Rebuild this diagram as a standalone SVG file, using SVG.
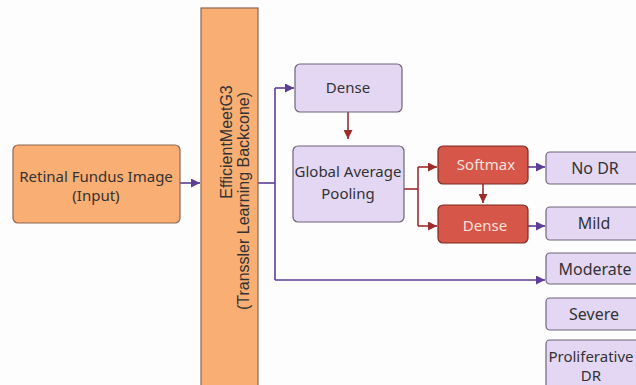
<svg xmlns="http://www.w3.org/2000/svg" width="636" height="385" viewBox="0 0 636 385">
  <defs>
    <marker id="arrowPurple" viewBox="0 0 10 10" refX="10" refY="5" markerWidth="9" markerHeight="9" markerUnits="userSpaceOnUse" orient="auto">
      <path d="M0,0 L10,5 L0,10 z" fill="#5a3e98"/>
    </marker>
    <marker id="arrowRed" viewBox="0 0 10 10" refX="10" refY="5" markerWidth="9" markerHeight="9" markerUnits="userSpaceOnUse" orient="auto">
      <path d="M0,0 L10,5 L0,10 z" fill="#9e2b2b"/>
    </marker>
  </defs>
  <style>
    .orange { fill: #f9ae73; stroke: #8c6650; stroke-width: 1.2; }
    .lav { fill: #e3d7f3; stroke: #6e6478; stroke-width: 1.2; }
    .red { fill: #d6564a; stroke: #7d2a23; stroke-width: 1.2; }
    .lbl { font-family: "Noto Sans", "Open Sans", sans-serif; font-size: 15px; fill: #333; text-anchor: middle; }
    .big { font-size: 16px; }
    .lblw { font-family: "Noto Sans", "Open Sans", sans-serif; font-size: 15px; fill: #f8e2dc; text-anchor: middle; }
    .bb { font-family: "Liberation Sans", Arial, sans-serif; font-size: 16px; fill: #333; text-anchor: middle; }
    .cp { fill: none; stroke: #5a3e98; stroke-width: 1.6; }
    .cr { fill: none; stroke: #9e2b2b; stroke-width: 1.6; }
  </style>
  <rect width="636" height="385" fill="#fdfdfd"/>

  <g id="connectors">
    <path class="cp" d="M180,183 H200" marker-end="url(#arrowPurple)"/>
    <path class="cp" d="M258,183 H275"/>
    <path class="cp" d="M275,88 V280"/>
    <path class="cp" d="M275,88 H294" marker-end="url(#arrowPurple)"/>
    <path class="cp" d="M275,280 H545" marker-end="url(#arrowPurple)"/>
    <path class="cr" d="M348,112 V139" marker-end="url(#arrowRed)"/>
    <path class="cr" d="M404,189 H418"/>
    <path class="cr" d="M418,167 V226"/>
    <path class="cr" d="M418,167 H437" marker-end="url(#arrowRed)"/>
    <path class="cr" d="M418,226 H437" marker-end="url(#arrowRed)"/>
    <path class="cr" d="M483,184 V203" marker-end="url(#arrowRed)"/>
    <path class="cp" d="M528,167 H545" marker-end="url(#arrowPurple)"/>
    <path class="cp" d="M528,226 H545" marker-end="url(#arrowPurple)"/>
  </g>

  <g id="input">
    <rect class="orange" x="13" y="145" width="167" height="78" rx="5"/>
    <text class="lbl" x="96" y="182">Retinal Fundus Image</text>
    <text class="lbl" x="96" y="201">(Input)</text>
  </g>

  <g id="backbone">
    <rect class="orange" x="201" y="8" width="57" height="385"/>
    <text class="bb" transform="translate(232,142) rotate(-90)">EfficientMeetG3</text>
    <text class="bb" transform="translate(249,201) rotate(-90)">(Transsler Learning Backcone)</text>
  </g>

  <g id="dense1">
    <rect class="lav" x="295" y="64" width="107" height="48" rx="5"/>
    <text class="lbl" x="348" y="93">Dense</text>
  </g>

  <g id="gap">
    <rect class="lav" x="293" y="146" width="111" height="76" rx="5"/>
    <text class="lbl" x="348" y="177">Global Average</text>
    <text class="lbl" x="348" y="199">Pooling</text>
  </g>

  <g id="softmax">
    <rect class="red" x="438" y="146" width="90" height="38" rx="5"/>
    <text class="lblw" x="486" y="170">Softmax</text>
  </g>

  <g id="dense2">
    <rect class="red" x="438" y="205" width="90" height="38" rx="5"/>
    <text class="lblw" x="485" y="231">Dense</text>
  </g>

  <g id="nodr">
    <rect class="lav" x="546" y="152" width="100" height="32" rx="4"/>
    <text class="lbl big" x="595" y="174">No DR</text>
  </g>

  <g id="mild">
    <rect class="lav" x="546" y="207" width="100" height="33" rx="4"/>
    <text class="lbl big" x="594" y="229">Mild</text>
  </g>

  <g id="moderate">
    <rect class="lav" x="546" y="253" width="100" height="31" rx="4"/>
    <text class="lbl big" x="595" y="275">Moderate</text>
  </g>

  <g id="severe">
    <rect class="lav" x="546" y="298" width="100" height="32" rx="4"/>
    <text class="lbl big" x="594" y="320">Severe</text>
  </g>

  <g id="proliferative">
    <rect class="lav" x="546" y="340" width="100" height="60" rx="4"/>
    <text class="lbl" x="591" y="362">Proliferative</text>
    <text class="lbl" x="591" y="381">DR</text>
  </g>
</svg>
